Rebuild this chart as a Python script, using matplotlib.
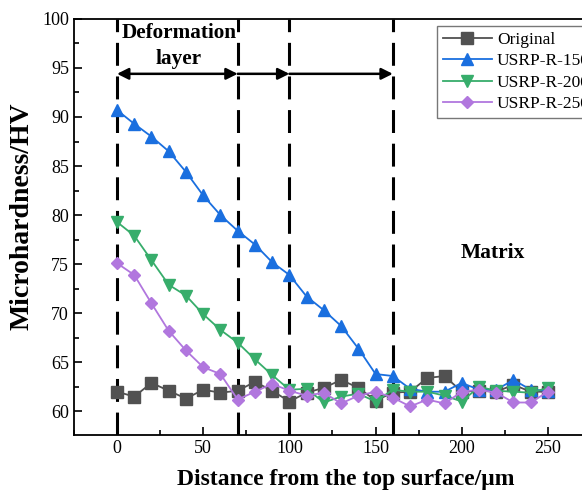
import numpy as np
from matplotlib import pyplot as plt
from matplotlib.ticker import MultipleLocator

plt.rcParams['font.family'] = ['Liberation Serif', 'DejaVu Serif']
plt.rcParams['mathtext.fontset'] = 'stix'

# depth below the treated surface, um
distance = np.arange(0, 251, 10)

original = [62.0, 61.5, 62.9, 62.1, 61.3, 62.2, 61.9, 62.1, 63.0, 62.1,
            61.0, 61.9, 62.4, 63.2, 62.4, 61.1, 61.9, 62.0, 63.4, 63.6,
            62.0, 62.1, 62.0, 62.7, 62.0, 62.0]
usrp_150 = [90.7, 89.3, 88.0, 86.5, 84.4, 82.0, 80.0, 78.4, 77.0, 75.2,
            73.9, 71.7, 70.3, 68.7, 66.4, 63.8, 63.6, 62.3, 62.0, 62.0,
            62.9, 62.2, 62.2, 63.2, 62.2, 62.1]
usrp_200 = [79.3, 77.9, 75.4, 72.9, 71.8, 69.9, 68.3, 67.0, 65.3, 63.7,
            62.2, 62.3, 60.9, 61.5, 61.8, 61.0, 62.2, 62.0, 62.0, 61.6,
            61.0, 62.5, 62.1, 62.0, 61.9, 62.4]
usrp_250 = [75.1, 73.9, 71.0, 68.2, 66.2, 64.5, 63.8, 61.2, 62.0, 62.8,
            62.1, 61.6, 61.9, 60.8, 61.6, 62.0, 61.4, 60.5, 61.2, 60.8,
            62.0, 62.2, 61.9, 60.9, 60.9, 62.0]

series = [('Original', original, '#515151', 's'),
          ('USRP-R-150', usrp_150, '#1A6FDF', '^'),
          ('USRP-R-200', usrp_200, '#37AD6B', 'v'),
          ('USRP-R-250', usrp_250, '#B177DE', 'D')]

# layer boundaries and arrow height
boundaries = [0, 70, 100, 160]
arrow_y = 94.4

fig = plt.figure(figsize=(5.82, 4.97), dpi=100)
ax = fig.add_axes([0.127, 0.125, 0.933, 0.837])

for name, vals, color, marker in series:
    ms = 6.5 if marker == 'D' else 8
    ax.plot(distance, vals, color=color, marker=marker, markersize=ms,
            linewidth=1.3, label=name, zorder=3)

for b in boundaries:
    ax.axvline(b, color='black', linestyle=(0, (7.5, 3.5)), linewidth=2.2, zorder=2)

arrow_kw = dict(color='black', lw=1.8, mutation_scale=17, shrinkA=0, shrinkB=0)
ax.annotate('', xy=(boundaries[1], arrow_y), xytext=(boundaries[0], arrow_y),
            arrowprops=dict(arrowstyle='<|-|>', **arrow_kw))
ax.annotate('', xy=(boundaries[2], arrow_y), xytext=(boundaries[1], arrow_y),
            arrowprops=dict(arrowstyle='-|>', **arrow_kw))
ax.annotate('', xy=(boundaries[3], arrow_y), xytext=(boundaries[2], arrow_y),
            arrowprops=dict(arrowstyle='-|>', **arrow_kw))

ax.text(36, 98.6, 'Deformation', ha='center', va='center', fontsize=15.3,
        fontweight='bold', zorder=4,
        bbox=dict(facecolor='white', edgecolor='none', pad=0.3))
ax.text(36, 95.9, 'layer', ha='center', va='center', fontsize=15.3,
        fontweight='bold', zorder=4,
        bbox=dict(facecolor='white', edgecolor='none', pad=0.3))
ax.text(218, 76.1, 'Matrix', ha='center', va='center', fontsize=15.5,
        fontweight='bold')

ax.set_xlim(-25, 290)
ax.set_ylim(57.6, 100)
ax.xaxis.set_major_locator(MultipleLocator(50))
ax.xaxis.set_minor_locator(MultipleLocator(25))
ax.yaxis.set_major_locator(MultipleLocator(5))
ax.yaxis.set_minor_locator(MultipleLocator(2.5))
ax.tick_params(which='both', direction='in', labelsize=13, width=1.2)
ax.tick_params(which='major', length=6)
ax.tick_params(which='minor', length=3.5)
for s in ax.spines.values():
    s.set_linewidth(1.3)

ax.set_xlabel('Distance from the top surface/μm', fontsize=17,
              fontweight='bold', labelpad=9)
ax.set_ylabel('Microhardness/HV', fontsize=20, fontweight='bold')
ax.yaxis.set_label_coords(-0.072, 0.526)

leg = ax.legend(loc='upper left', bbox_to_anchor=(0.751, 0.948),
                bbox_transform=fig.transFigure, fontsize=12.5, frameon=True,
                fancybox=False, edgecolor='#555555', handlelength=2.8,
                borderpad=0.35, labelspacing=0.3, handletextpad=0.3,
                borderaxespad=0)
leg.get_frame().set_linewidth(1.0)

fig.savefig('out.png', dpi=100)
